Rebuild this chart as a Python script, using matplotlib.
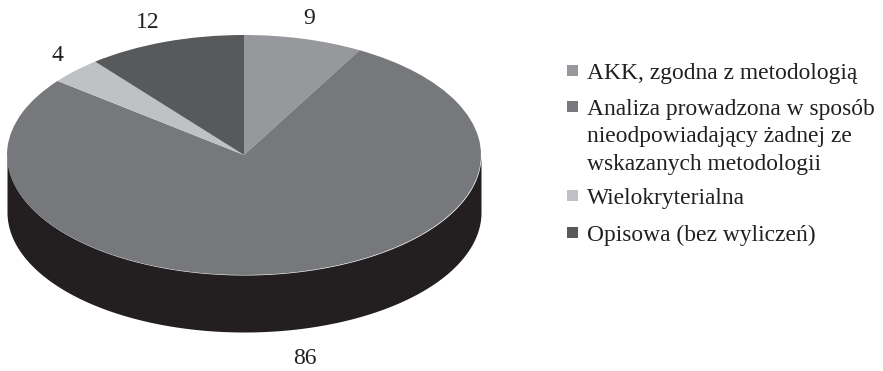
import numpy as np
import matplotlib
matplotlib.use("Agg")
import matplotlib.pyplot as plt
from matplotlib.patches import Rectangle

values = [9, 86, 4, 12]
categories = [
    "AKK, zgodna z metodologią",
    "Analiza prowadzona w sposób\nnieodpowiadający żadnej ze\nwskazanych metodologii",
    "Wielokryterialna",
    "Opisowa (bez wyliczeń)",
]
colors = ["#97989b", "#77787b", "#c0c1c4", "#58595b"]
side_color = "#231f20"

W, H = 883, 371
CX, CY, RX, RY, DEPTH = 244, 155, 237, 120, 57

plt.rcParams["font.family"] = ["Liberation Serif", "DejaVu Serif"]
fig = plt.figure(figsize=(W / 100, H / 100), dpi=100, facecolor="white")
ax = fig.add_axes([0, 0, 1, 1])


def to_data(px, py):
    # Pixel position -> pie units, where the top ellipse has radius 1.
    return (px - CX) / RX, (CY - py) / RY


# Thick rim below the front half of the disc.
t = np.linspace(np.pi, 2 * np.pi, 400)
rim_x = np.cos(t)
rim_top = np.sin(t)
ax.fill_between(rim_x, rim_top, rim_top - DEPTH / RY, color=side_color, lw=0, zorder=1)

wedges, _ = ax.pie(values, colors=colors, startangle=90, counterclock=False,
                   radius=1, center=(0, 0), wedgeprops={"linewidth": 0, "zorder": 2})

ax.set_aspect("auto")
x0, y0 = to_data(0, H)
x1, y1 = to_data(W, 0)
ax.set_xlim(x0, x1)
ax.set_ylim(y0, y1)
ax.axis("off")

# Value labels around the disc.
label_pos = [(309, 18), (305, 359), (57, 55), (148, 23)]
for val, (px, py) in zip(values, label_pos):
    lx, ly = to_data(px, py)
    ax.text(lx, ly, str(val), ha="center", va="center", fontsize=17, color="#231f20")

# Legend column: squares and wrapped labels.
legend_y = [70.5, 106, 195, 232]
text_y = [63, 99, 188, 225]
swatch = 11
for cat, col, sy, ty in zip(categories, colors, legend_y, text_y):
    fig.add_artist(Rectangle((567 / W, 1 - (sy + swatch / 2) / H), swatch / W, swatch / H,
                             transform=fig.transFigure, facecolor=col, edgecolor="none"))
    fig.text(587 / W, 1 - ty / H, cat, ha="left", va="top", fontsize=16.9,
             color="#231f20", linespacing=1.4)

fig.savefig("out.png", dpi=100, facecolor="white")
